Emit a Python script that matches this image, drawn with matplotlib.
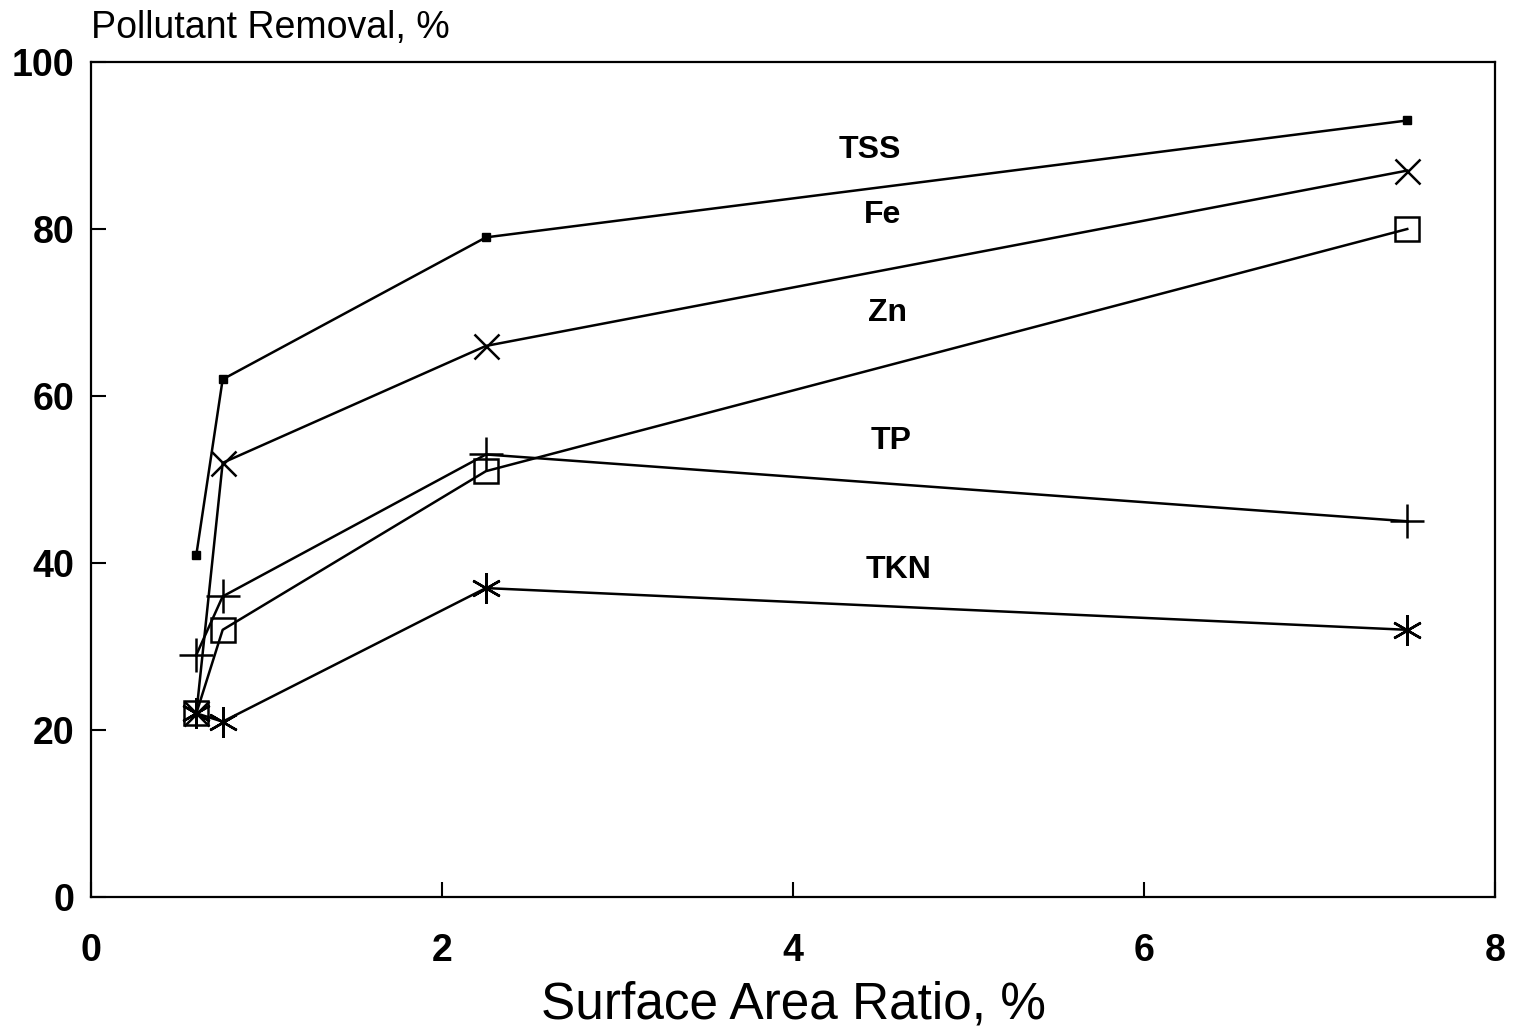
import matplotlib
matplotlib.use("Agg")
import numpy as np
from matplotlib import pyplot as plt

plt.rcParams['font.family'] = ['Liberation Sans', 'DejaVu Sans']

# surface area ratio, %
ratio = [0.6, 0.75, 2.25, 7.5]

# pollutant removal, %
tss = [41, 62, 79, 93]
fe = [22, 52, 66, 87]
zn = [22, 32, 51, 80]
tp = [29, 36, 53, 45]
tkn = [22, 21, 37, 32]

series = ['TSS', 'Fe', 'Zn', 'TP', 'TKN']
label_x = [4.44, 4.51, 4.54, 4.56, 4.60]
label_y = [89.5, 81.7, 69.9, 54.6, 39.2]

fig = plt.figure(figsize=(15.15, 10.32), dpi=100)
ax = fig.add_axes([0.0601, 0.1308, 0.9267, 0.8091])

ax.plot(ratio, tss, color='black', lw=1.8, marker='s', ms=6, mfc='black')
ax.plot(ratio, fe, color='black', lw=1.8, marker='x', ms=18, mew=1.8)
ax.plot(ratio, zn, color='black', lw=1.8, marker='s', ms=17, mfc='none', mew=1.8)
ax.plot(ratio, tp, color='black', lw=1.8, marker='+', ms=24, mew=1.8)
ax.plot(ratio, tkn, color='black', lw=1.8, marker=(6, 2, 0), ms=22, mew=1.8)

for name, lx, ly in zip(series, label_x, label_y):
    ax.text(lx, ly, name, fontsize=23, fontweight='bold', ha='center', va='center')

ax.set_xlim(0, 8)
ax.set_ylim(0, 100)
ax.set_xticks([0, 2, 4, 6, 8])
ax.set_yticks([0, 20, 40, 60, 80, 100])
ax.tick_params(direction='in', length=11, width=1.5, labelsize=27)
ax.tick_params(axis='x', pad=26)
ax.tick_params(axis='y', pad=12)
for lab in ax.get_xticklabels() + ax.get_yticklabels():
    lab.set_fontweight('bold')
for s in ax.spines.values():
    s.set_linewidth(1.6)

ax.set_xlabel('Surface Area Ratio, %', fontsize=37)
ax.xaxis.set_label_coords(0.5, -0.1)
fig.text(0.06, 0.973, 'Pollutant Removal, %', fontsize=27, ha='left', va='center')

fig.savefig('out.png', dpi=100)
